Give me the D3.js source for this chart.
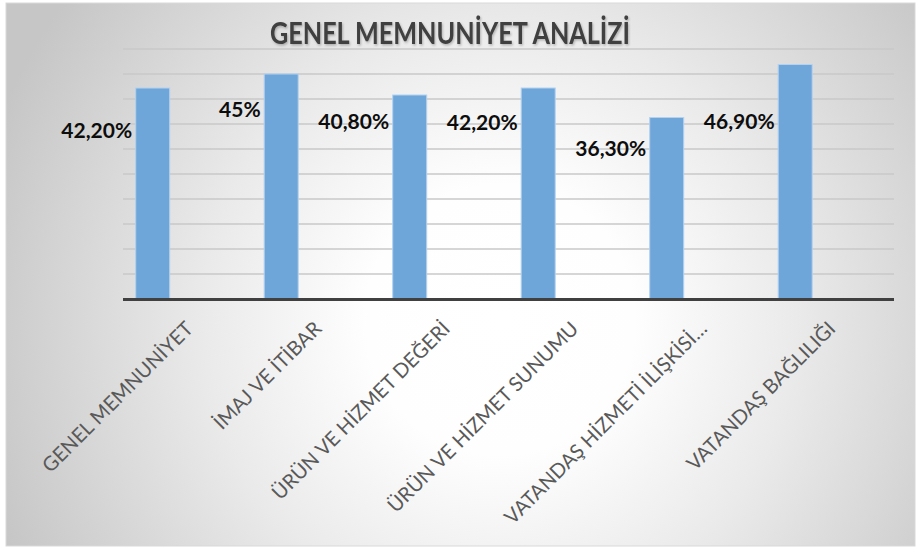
<!DOCTYPE html>
<html>
<head>
<meta charset="utf-8">
<script src="https://cdn.jsdelivr.net/npm/d3@7"></script>
<style>
  html, body { margin: 0; padding: 0; background: #ffffff; }
  svg { display: block; }
</style>
</head>
<body>
<svg id="chart" width="917" height="547"></svg>
<script>
// ---------------- DATA ----------------
const title = "GENEL MEMNUNİYET ANALİZİ";
const categories = [
  "GENEL MEMNUNİYET",
  "İMAJ VE İTİBAR",
  "ÜRÜN VE HİZMET DEĞERİ",
  "ÜRÜN VE HİZMET SUNUMU",
  "VATANDAŞ HİZMETİ İLİŞKİSİ…",
  "VATANDAŞ BAĞLILIĞI"
];
const values = [42.2, 45, 40.8, 42.2, 36.3, 46.9];
const valueLabels = ["42,20%", "45%", "40,80%", "42,20%", "36,30%", "46,90%"];
const yTicks = [0, 5, 10, 15, 20, 25, 30, 35, 40, 45, 50];

// ---------------- LAYOUT ----------------
const W = 917, H = 547;
const plot = { left: 123, right: 894, top: 49, bottom: 299 };
const barOffset = 12.7, barWidth = 34;
// label placement (pixels below each bar top, as in the original slide)
const labelDY = [50, 43, 34, 42, 38, 64];

const svg = d3.select("#chart");
const defs = svg.append("defs");

const grad = defs.append("radialGradient")
  .attr("id", "bg").attr("gradientUnits", "userSpaceOnUse")
  .attr("cx", 500).attr("cy", 320).attr("r", 540);
[[0, "#ffffff"], [0.25, "#fefefe"], [0.55, "#eaeaea"], [0.85, "#d2d2d2"], [1, "#c6c6c6"]]
  .forEach(([o, c]) => grad.append("stop").attr("offset", o).attr("stop-color", c));

const shadow = defs.append("filter").attr("id", "tshadow")
  .attr("x", "-10%").attr("y", "-30%").attr("width", "120%").attr("height", "160%");
shadow.append("feDropShadow").attr("dx", 1).attr("dy", 1.5).attr("stdDeviation", 1)
  .attr("flood-color", "#000").attr("flood-opacity", 0.25);

// chart area
svg.append("rect")
  .attr("x", 6).attr("y", 3).attr("width", 909).attr("height", 543)
  .attr("fill", "url(#bg)")
  .attr("stroke", "#d9d9d9").attr("stroke-width", 1);

// scales
const x = d3.scaleBand().domain(categories).range([plot.left, plot.right]).padding(0);
const y = d3.scaleLinear().domain([0, 50]).range([plot.bottom, plot.top]);

// gridlines
svg.append("g").selectAll("line")
  .data(yTicks.filter(t => t > 0))
  .join("line")
  .attr("x1", plot.left).attr("x2", plot.right)
  .attr("y1", d => y(d)).attr("y2", d => y(d))
  .attr("stroke", "#c8c8c8").attr("stroke-width", 1.6);

// bars
svg.append("g").selectAll("rect")
  .data(values)
  .join("rect")
  .attr("x", (d, i) => x(categories[i]) + barOffset)
  .attr("y", d => y(d))
  .attr("width", barWidth)
  .attr("height", d => y(0) - y(d))
  .attr("fill", "#6fa6da")
  .attr("stroke", "#b4d2ef").attr("stroke-width", 1);

// x axis line
svg.append("line")
  .attr("x1", plot.left).attr("x2", plot.right)
  .attr("y1", y(0) + 0.5).attr("y2", y(0) + 0.5)
  .attr("stroke", "#404040").attr("stroke-width", 3);

// value labels
svg.append("g").selectAll("text")
  .data(values)
  .join("text")
  .attr("x", (d, i) => x(categories[i]) + barOffset - 3.5)
  .attr("y", (d, i) => y(d) + labelDY[i])
  .attr("text-anchor", "end")
  .attr("font-family", "Lato, 'Open Sans', sans-serif")
  .attr("font-weight", "bold")
  .attr("font-size", 21)
  .attr("fill", "#0d0d0d")
  .text((d, i) => valueLabels[i]);

// category labels (rotated -45°)
svg.append("g").selectAll("text")
  .data(categories)
  .join("text")
  .attr("transform", d => `translate(${x(d) + x.bandwidth() / 2 + 7},${y(0) + 31}) rotate(-45)`)
  .attr("text-anchor", "end")
  .attr("font-family", "Lato, 'Open Sans', sans-serif")
  .attr("font-size", 20)
  .attr("fill", "#595959")
  .text(d => d);

// title
svg.append("text")
  .attr("x", 450).attr("y", 43.5)
  .attr("text-anchor", "middle")
  .attr("font-family", "Lato, 'Open Sans', sans-serif")
  .attr("font-weight", "bold")
  .attr("font-size", 30)
  .attr("textLength", 360).attr("lengthAdjust", "spacingAndGlyphs")
  .attr("fill", "#404040")
  .attr("filter", "url(#tshadow)")
  .text(title);
</script>
</body>
</html>
